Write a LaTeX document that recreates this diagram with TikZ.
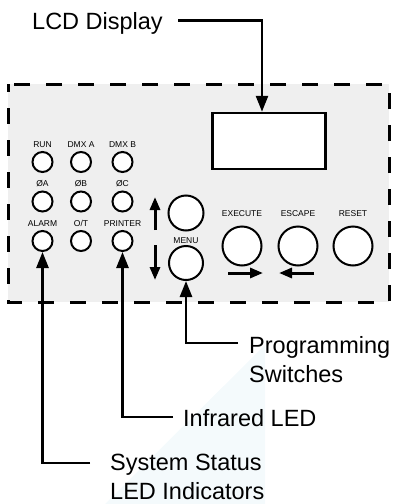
\documentclass[tikz,border=0pt]{standalone}
\usepackage{fontspec}
\setmainfont{Liberation Sans}
\usetikzlibrary{arrows.meta}
\definecolor{panelgray}{HTML}{EFEFEF}
\definecolor{ghost}{HTML}{F4FAFC}
\tikzset{
  panel/.style={draw=black, line width=3pt, fill=panelgray, dash pattern=on 16pt off 16pt, dash phase=8pt},
  led/.style={circle, draw=black, fill=white, line width=2pt, minimum size=20pt, inner sep=0pt},
  button/.style={circle, draw=black, fill=white, line width=2pt, minimum size=#1, inner sep=0pt},
  ledlabel/.style={font=\fontsize{8.5}{10}\selectfont, inner sep=0pt, anchor=base},
  callout/.style={font=\fontsize{23.5}{28.5}\selectfont, inner sep=0pt, align=left, anchor=base west},
  leader/.style={line width=2.6pt, -{Triangle[width=12pt,length=16pt]}},
  move/.style={line width=3pt, -{Triangle[width=10pt,length=13pt]}}
}
\begin{document}
\begin{tikzpicture}[x=1pt, y=-1pt]
  \useasboundingbox (0,0) rectangle (393,504);
  % faint backdrop
  \fill[ghost] (105,504) -- (265,345) -- (265,504) -- cycle;
  % front panel
  \draw[panel] (8,84) rectangle (389,302);
  \node[draw=black, fill=white, line width=2.5pt, minimum width=113pt, minimum height=56pt, inner sep=0pt] (lcd) at (269,141) {};
  % status LEDs
  \foreach \x/\nm/\txt in {42.5/run/RUN, 81/dmxa/DMX A, 122.5/dmxb/DMX B} {
    \node[led] (\nm) at (\x,162) {};
    \node[ledlabel] at (\x,147) {\txt};
  }
  \foreach \x/\nm/\txt in {42.5/pha/ØA, 81/phb/ØB, 122.5/phc/ØC} {
    \node[led] (\nm) at (\x,201.5) {};
    \node[ledlabel] at (\x,186.5) {\txt};
  }
  \foreach \x/\nm/\txt in {42.5/alarm/ALARM, 81/ot/{O/T}, 122.5/printer/PRINTER} {
    \node[led] (\nm) at (\x,241) {};
    \node[ledlabel] at (\x,226) {\txt};
  }
  % programming switches
  \node[button=35pt] (up) at (186,213) {};
  \node[button=34pt] (menu) at (186,263) {};
  \node[ledlabel] at (186,243) {MENU};
  \foreach \x/\nm/\txt in {242/execute/EXECUTE, 298/escape/ESCAPE, 353/reset/RESET} {
    \node[button=39pt] (\nm) at (\x,246) {};
    \node[ledlabel] at (\x,216.5) {\txt};
  }
  \draw[move] (155,230) -- (155,197);
  \draw[move] (155,245) -- (155,280);
  \draw[move] (228,273) -- (263,273);
  \draw[move] (314,273) -- (279,273);
  % callouts (base = last line)
  \node[callout] (lcdText) at (32,29) {LCD Display};
  \node[callout] (progText) at (249,382) {Programming\\Switches};
  \node[callout] (irText) at (183,426) {Infrared LED};
  \node[callout] (sysText) at (110,499) {System Status\\LED Indicators};
  \coordinate (lcdFrom) at (178,20.7);
  \coordinate (progFrom) at (238,343);
  \coordinate (irFrom) at (173,417);
  \coordinate (sysFrom) at (90,463);
  \draw[leader] (lcdFrom) -| ([xshift=-7pt]lcd.north);
  \draw[leader] (progFrom) -| (menu.south);
  \draw[leader] (irFrom) -| (printer.south);
  \draw[leader] (sysFrom) -| (alarm.south);
\end{tikzpicture}
\end{document}
